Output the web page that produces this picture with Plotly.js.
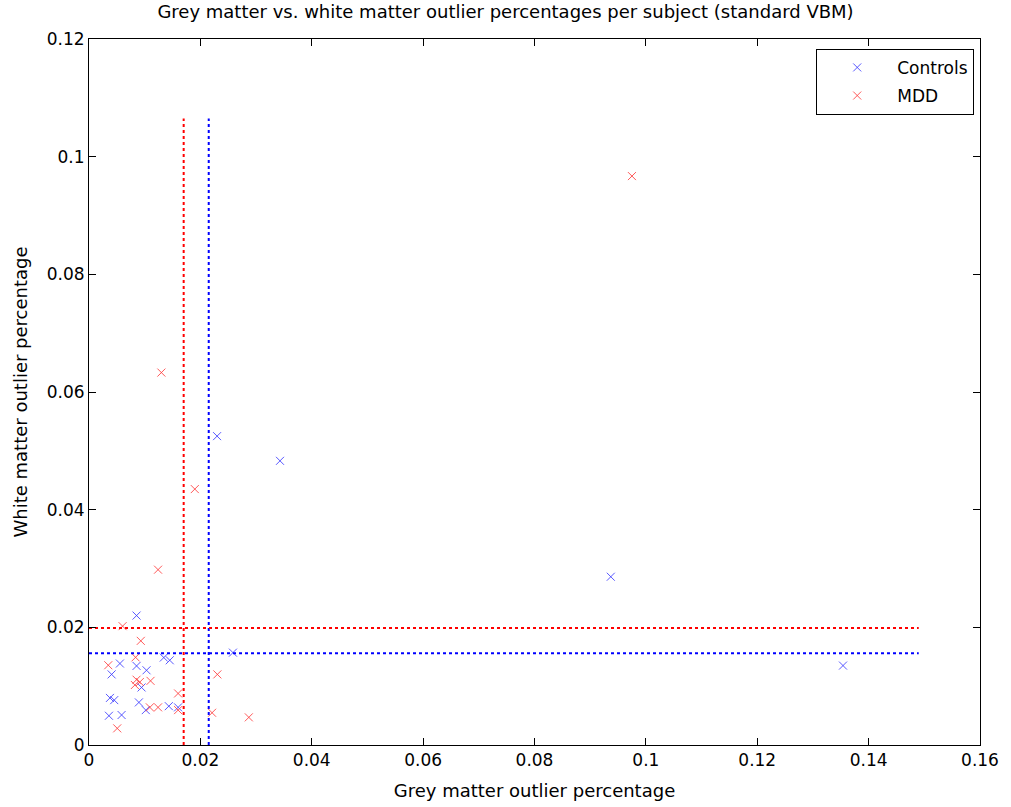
<!DOCTYPE html>
<html><head><meta charset="utf-8">
<script src="https://cdn.plot.ly/plotly-3.0.1.min.js"></script>
<style>body{margin:0;background:#fff}#c{width:1011px;height:807px}</style>
</head><body><div id="c"></div>
<script>
const controlsGM = [0.0230,0.0343,0.0937,0.1354,0.00854,0.01343,0.0145,0.02585,0.00555,0.00406,0.00854,0.01033,0.00944,0.00376,0.00453,0.00896,0.0102,0.01433,0.016,0.00358,0.00585];
const controlsWM = [0.0525,0.0483,0.0286,0.0135,0.0220,0.01486,0.0144,0.0157,0.01385,0.0120,0.01344,0.0127,0.00978,0.0080,0.00763,0.00724,0.00593,0.0066,0.0064,0.00497,0.0051];
const mddGM = [0.0975,0.0130,0.0190,0.0124,0.00603,0.0093,0.00346,0.00836,0.02305,0.00854,0.00913,0.00824,0.01105,0.016,0.01093,0.0124,0.016,0.0221,0.0287,0.00507];
const mddWM = [0.0967,0.0633,0.0435,0.0298,0.0202,0.0177,0.01356,0.0149,0.0120,0.0111,0.0107,0.0102,0.0109,0.00876,0.0064,0.0064,0.00593,0.00548,0.0047,0.00283];
const controlsThreshGM = 0.0215, controlsThreshWM = 0.0156;
const mddThreshGM = 0.0170, mddThreshWM = 0.0199;
const lineXRange = [0, 0.149], lineYRange = [0, 0.1065];
const xTicks = [0,0.02,0.04,0.06,0.08,0.1,0.12,0.14,0.16];
const xTickText = ['0','0.02','0.04','0.06','0.08','0.1','0.12','0.14','0.16'];
const yTicks = [0,0.02,0.04,0.06,0.08,0.1,0.12];
const yTickText = ['0','0.02','0.04','0.06','0.08','0.1','0.12'];

const mk = c => ({symbol:'x-thin-open', size:8, color:c, line:{color:c, width:1}});
const traces = [
 {x:controlsGM, y:controlsWM, mode:'markers', name:'Controls', legendgroup:'a', marker:mk('rgba(60,60,255,0.85)')},
 {x:mddGM, y:mddWM, mode:'markers', name:'MDD', legendgroup:'b', marker:mk('rgba(255,60,60,0.85)')},
 {x:[mddThreshGM,mddThreshGM], y:lineYRange, mode:'lines', showlegend:false, line:{color:'#ff0000', width:2, dash:'dot'}},
 {x:[controlsThreshGM,controlsThreshGM], y:lineYRange, mode:'lines', showlegend:false, line:{color:'#0000ff', width:2, dash:'dot'}},
 {x:lineXRange, y:[mddThreshWM,mddThreshWM], mode:'lines', showlegend:false, line:{color:'#ff0000', width:2, dash:'dot'}},
 {x:lineXRange, y:[controlsThreshWM,controlsThreshWM], mode:'lines', showlegend:false, line:{color:'#0000ff', width:2, dash:'dot'}}
];
const axBase = {showgrid:false, zeroline:false, showline:true, linecolor:'#000', linewidth:1, mirror:'ticks', ticks:'inside', ticklen:7, tickcolor:'#000', tickfont:{size:17, color:'#000'}, automargin:false};
const layout = {
 width:1011, height:807,
 margin:{l:89, r:31, t:39, b:62},
 paper_bgcolor:'#fff', plot_bgcolor:'#fff',
 font:{family:'DejaVu Sans, sans-serif', color:'#000'},
 title:{text:'Grey matter vs. white matter outlier percentages per subject (standard VBM)', font:{size:18}, x:0.5, xanchor:'center', y:0.993, yanchor:'top'},
 xaxis:Object.assign({}, axBase, {range:[0,0.16], tickvals:xTicks, ticktext:xTickText, title:{text:'Grey matter outlier percentage', font:{size:18}, standoff:14}}),
 yaxis:Object.assign({}, axBase, {range:[0,0.12], tickvals:yTicks, ticktext:yTickText, title:{text:'White matter outlier percentage', font:{size:18}, standoff:14}}),
 legend:{x:0.9935, xanchor:'right', y:0.986, yanchor:'top', bordercolor:'#000', borderwidth:1, bgcolor:'#fff', font:{size:17}, itemwidth:70, traceorder:'grouped', tracegroupgap:3},
 showlegend:true
};
Plotly.newPlot('c', traces, layout, {displayModeBar:false, staticPlot:true});
</script></body></html>
